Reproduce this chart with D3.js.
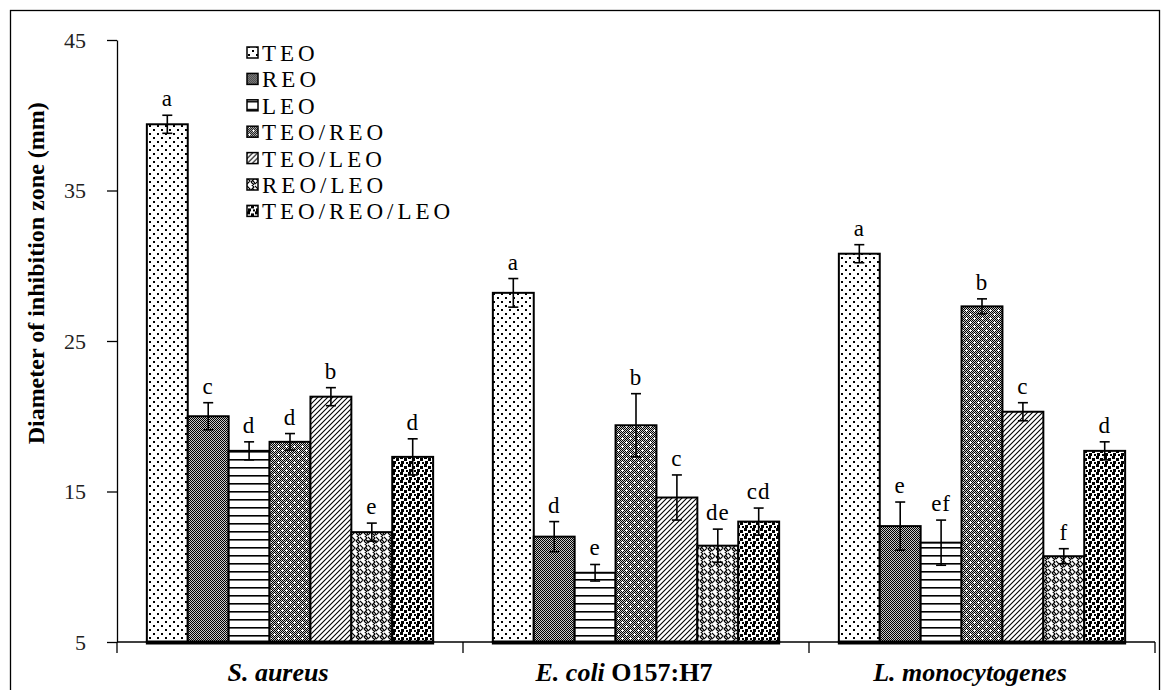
<!DOCTYPE html>
<html>
<head>
<meta charset="utf-8">
<script src="https://cdn.jsdelivr.net/npm/d3@7"></script>
<style>
    body { margin: 0; background: #fff; }
    svg { display: block; }
    .axis text { font-family: "Liberation Serif", serif; font-size: 22px; fill: #222; }
    .axis path, .axis line { stroke: #000; stroke-width: 1.3px; }
</style>
</head>
<body>
<svg id="chart"></svg>
<script>
    // ******************** Data ************************
    var categories = ["S. aureus", "E. coli O157:H7", "L. monocytogenes"];
    var series = ["TEO", "REO", "LEO", "TEO/REO", "TEO/LEO", "REO/LEO", "TEO/REO/LEO"];

    var aureusMean = [39.4, 20.0, 17.7, 18.3, 21.3, 12.3, 17.3];
    var aureusErr = [0.6, 0.9, 0.6, 0.55, 0.6, 0.6, 1.2];
    var aureusLetters = ["a", "c", "d", "d", "b", "e", "d"];

    var coliMean = [28.2, 12.0, 9.6, 19.4, 14.6, 11.4, 13.0];
    var coliErr = [0.95, 1.0, 0.55, 2.1, 1.5, 1.1, 0.9];
    var coliLetters = ["a", "d", "e", "b", "c", "de", "cd"];

    var monoMean = [30.8, 12.7, 11.6, 27.3, 20.3, 10.7, 17.7];
    var monoErr = [0.6, 1.6, 1.5, 0.5, 0.6, 0.5, 0.6];
    var monoLetters = ["a", "e", "ef", "b", "c", "f", "d"];

    var yTicks = [5, 15, 25, 35, 45];
    var yTitle = "Diameter of inhibition zone (mm)";

    var means = [aureusMean, coliMean, monoMean];
    var errs = [aureusErr, coliErr, monoErr];
    var letters = [aureusLetters, coliLetters, monoLetters];

    // one record per bar
    var bars = [];
    categories.forEach(function (c, i) {
        series.forEach(function (s, j) {
            bars.push({cat: c, ser: s, v: means[i][j], e: errs[i][j], l: letters[i][j]});
        });
    });

    // ******************** Globals ************************
    var W = 1169, H = 690;
    var y = d3.scaleLinear().domain([5, 45]).range([642, 40]);
    var x0 = d3.scaleBand().domain(categories).range([117, 1155]);
    var x1 = d3.scaleBand().domain(series).range([0, x0.bandwidth()]).paddingOuter(0.73);

    var svg = d3.select("#chart").attr("width", W).attr("height", H);

    // ******************** Patterns ************************
    var defs = svg.append("defs");
    function pat(id, w, h) {
        var p = defs.append("pattern").attr("id", id)
            .attr("patternUnits", "userSpaceOnUse")
            .attr("width", w).attr("height", h);
        p.append("rect").attr("width", w).attr("height", h).attr("fill", "#fff");
        return p;
    }
    // TEO: sparse dots
    var p0 = pat("p0", 8, 8);
    p0.append("rect").attr("x", 1).attr("y", 1).attr("width", 2).attr("height", 2).attr("fill", "#000");
    p0.append("rect").attr("x", 5).attr("y", 5).attr("width", 2).attr("height", 2).attr("fill", "#000");
    // REO: fine dark checker
    var p1 = pat("p1", 2, 2);
    p1.select("rect").attr("fill", "#000");
    p1.append("rect").attr("x", 1).attr("width", 1).attr("height", 1).attr("fill", "#c8c8c8");
    p1.append("rect").attr("y", 1).attr("width", 1).attr("height", 1).attr("fill", "#c8c8c8");
    // LEO: horizontal lines
    var p2 = pat("p2", 8, 8);
    p2.append("rect").attr("y", 3).attr("width", 8).attr("height", 1.6).attr("fill", "#000");
    // TEO/REO: dark checker with white crosses
    var p3 = pat("p3", 8, 8);
    p3.append("rect").attr("width", 8).attr("height", 8).attr("fill", "url(#p1)");
    [[2, 2], [6, 6]].forEach(function (d) {
        p3.append("rect").attr("x", d[0] - 1).attr("y", d[1]).attr("width", 3).attr("height", 1).attr("fill", "#fff");
        p3.append("rect").attr("x", d[0]).attr("y", d[1] - 1).attr("width", 1).attr("height", 3).attr("fill", "#fff");
    });
    // TEO/LEO: diagonal hatch
    var p4 = pat("p4", 5, 5);
    p4.append("path").attr("d", "M-1,6 L6,-1 M-1,1 L1,-1 M4,6 L6,4")
        .attr("stroke", "#000").attr("stroke-width", 1.1);
    // REO/LEO: herringbone
    var p5 = pat("p5", 8, 8);
    p5.append("path").attr("d", "M0,1 L3,4 L0,7 M4,-1 L7,2 L4,5 M4,5 L7,8 M5,9 L8,6 L5,3")
        .attr("stroke", "#000").attr("stroke-width", 1.1).attr("fill", "none");
    // TEO/REO/LEO: coarse squares
    var p6 = pat("p6", 8, 8);
    [[0, 0], [4, 2], [1, 5], [6, 6]].forEach(function (d) {
        p6.append("rect").attr("x", d[0]).attr("y", d[1]).attr("width", 3).attr("height", 3).attr("fill", "#000");
    });
    var fill = d3.scaleOrdinal().domain(series).range(series.map(function (d, i) { return "url(#p" + i + ")"; }));

    // frame
    svg.append("rect").attr("x", 10.5).attr("y", 10.5).attr("width", 1149).attr("height", 700)
        .attr("fill", "none").attr("stroke", "#000").attr("stroke-width", 1.3);

    // ******************** Axes ************************
    svg.append("g").attr("class", "axis")
        .attr("transform", "translate(117,0)")
        .call(d3.axisLeft(y).tickValues(yTicks).tickSize(10).tickSizeOuter(0).tickPadding(21));

    svg.append("text")
        .attr("transform", "translate(38," + y(29.5) + ") rotate(-90)")
        .attr("text-anchor", "middle")
        .attr("dominant-baseline", "middle")
        .style("font-family", "Liberation Serif")
        .style("font-weight", "bold")
        .style("font-size", "24px")
        .text(yTitle);

    // x axis: line plus ticks at band boundaries
    var gx = svg.append("g");
    gx.append("line").attr("x1", x0.range()[0]).attr("x2", x0.range()[1])
        .attr("y1", y(5)).attr("y2", y(5)).attr("stroke", "#000").attr("stroke-width", 1.3);
    var bounds = categories.map(function (c) { return x0(c); }).concat([x0.range()[1]]);
    gx.selectAll(".tk").data(bounds).enter().append("line")
        .attr("x1", function (d) { return d; }).attr("x2", function (d) { return d; })
        .attr("y1", y(5)).attr("y2", y(5) + 11)
        .attr("stroke", "#000").attr("stroke-width", 1.3);

    var labs = gx.selectAll(".lab").data(categories).enter().append("text")
        .attr("x", function (d) { return x0(d) + x0.bandwidth() / 2 - 12; })
        .attr("y", 681)
        .attr("text-anchor", "middle")
        .style("font-family", "Liberation Serif")
        .style("font-weight", "bold")
        .style("font-size", "26px");
    labs.each(function (d) {
        var t = d3.select(this);
        var m = d.match(/^(\S+ \S+)(.*)$/);
        t.append("tspan").style("font-style", "italic").text(m[1]);
        if (m[2]) t.append("tspan").text(m[2]);
    });

    // ******************** Bars ************************
    var gBars = svg.append("g");
    gBars.selectAll("rect").data(bars).enter().append("rect")
        .attr("x", function (d) { return x0(d.cat) + x1(d.ser); })
        .attr("y", function (d) { return y(d.v); })
        .attr("width", x1.bandwidth())
        .attr("height", function (d) { return y(5) - y(d.v); })
        .attr("fill", function (d) { return fill(d.ser); })
        .attr("stroke", "#000").attr("stroke-width", 2);

    // thick base under each group
    gBars.selectAll(".base").data(categories).enter().append("line")
        .attr("x1", function (d) { return x0(d) + x1(series[0]) - 1; })
        .attr("x2", function (d) { return x0(d) + x1(series[series.length - 1]) + x1.bandwidth() + 1; })
        .attr("y1", y(5) + 0.5).attr("y2", y(5) + 0.5)
        .attr("stroke", "#000").attr("stroke-width", 4);

    // error bars
    var gErr = svg.append("g").attr("stroke", "#000").attr("stroke-width", 1.6);
    var cx = function (d) { return x0(d.cat) + x1(d.ser) + x1.bandwidth() / 2; };
    gErr.selectAll(".v").data(bars).enter().append("line")
        .attr("x1", cx).attr("x2", cx)
        .attr("y1", function (d) { return y(d.v + d.e); })
        .attr("y2", function (d) { return y(d.v - d.e); });
    gErr.selectAll(".t").data(bars).enter().append("line")
        .attr("x1", function (d) { return cx(d) - 5; }).attr("x2", function (d) { return cx(d) + 5; })
        .attr("y1", function (d) { return y(d.v + d.e); })
        .attr("y2", function (d) { return y(d.v + d.e); });
    gErr.selectAll(".b").data(bars).enter().append("line")
        .attr("x1", function (d) { return cx(d) - 5; }).attr("x2", function (d) { return cx(d) + 5; })
        .attr("y1", function (d) { return y(d.v - d.e); })
        .attr("y2", function (d) { return y(d.v - d.e); });

    // significance letters
    svg.append("g").selectAll("text").data(bars).enter().append("text")
        .attr("x", cx)
        .attr("y", function (d) { return y(d.v + d.e) - 9; })
        .attr("text-anchor", "middle")
        .style("font-family", "Liberation Serif")
        .style("font-size", "23px")
        .style("letter-spacing", "1px")
        .text(function (d) { return d.l; });

    // ******************** Legend ************************
    var leg = svg.append("g").selectAll("g").data(series).enter().append("g")
        .attr("transform", function (d, i) { return "translate(247," + (53 + i * 26.4) + ")"; });
    leg.append("rect").attr("x", 0).attr("y", -6).attr("width", 11).attr("height", 11)
        .attr("fill", function (d) { return fill(d); })
        .attr("stroke", "#000").attr("stroke-width", 1.5);
    leg.append("text").attr("x", 15).attr("y", 8)
        .style("font-family", "Liberation Serif")
        .style("font-size", "23px")
        .style("letter-spacing", "4px")
        .text(function (d) { return d; });
</script>
</body>
</html>
